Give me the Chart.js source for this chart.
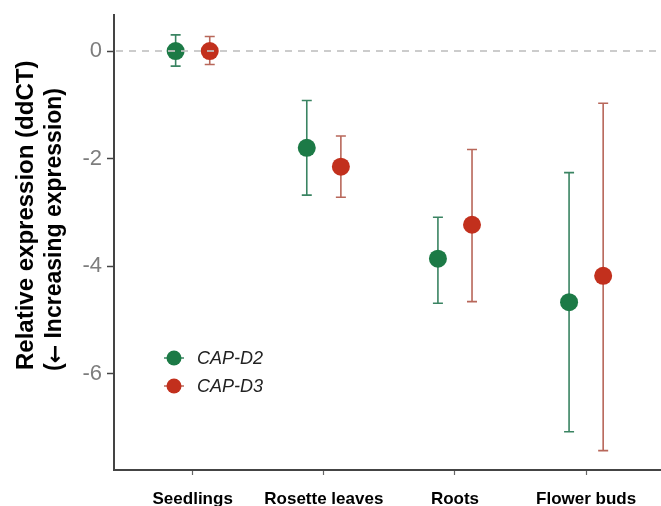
<!DOCTYPE html>
<html><head><meta charset="utf-8">
<script src="https://cdn.jsdelivr.net/npm/chart.js@4/dist/chart.umd.min.js"></script>
<style>html,body{margin:0;padding:0;background:#fff;overflow:hidden}#wrap{width:661px;height:506px;position:relative}</style>
</head><body><div id="wrap"><canvas id="c"></canvas></div>
<script>
const categories = ['Seedlings', 'Rosette leaves', 'Roots', 'Flower buds'];
const seriesNames = ['CAP-D2', 'CAP-D3'];
const d2Mean  = [0, -1.80, -3.86, -4.67];
const d2Upper = [0.30, -0.92, -3.09, -2.26];
const d2Lower = [-0.28, -2.68, -4.69, -7.08];
const d3Mean  = [0, -2.15, -3.23, -4.18];
const d3Upper = [0.27, -1.58, -1.83, -0.97];
const d3Lower = [-0.25, -2.72, -4.66, -7.43];
const yTickValues = [0, -2, -4, -6];
const yTitleLine1 = 'Relative expression (ddCT)';
const yTitleLine2 = ['(', '\u2190', ' Increasing expression)'];

const FONT = '"Liberation Sans", Arial, Helvetica, sans-serif';
const pointColors = ['#1c7a46', '#c2301d'];
const barColors = ['#3a8462', '#b8675a'];
const dodge = [-0.13, 0.13];

function build(mean, up, lo, k) {
  return mean.map((m, i) => ({ x: i + 1 + dodge[k], y: m, hi: up[i], lo: lo[i] }));
}

const errorBars = {
  id: 'errorBars',
  beforeDatasetsDraw(chart) {
    const { ctx, scales: { x, y } } = chart;
    ctx.save();
    chart.data.datasets.forEach((ds, k) => {
      ctx.strokeStyle = barColors[k];
      ctx.lineWidth = 1.6;
      ds.data.forEach(p => {
        const px = x.getPixelForValue(p.x);
        const yh = y.getPixelForValue(p.hi), yl = y.getPixelForValue(p.lo);
        ctx.beginPath();
        ctx.moveTo(px, yh); ctx.lineTo(px, yl);
        ctx.moveTo(px - 5, yh); ctx.lineTo(px + 5, yh);
        ctx.moveTo(px - 5, yl); ctx.lineTo(px + 5, yl);
        ctx.stroke();
      });
    });
    ctx.restore();
  },
  afterDatasetsDraw(chart) {
    const { ctx, chartArea, scales: { y } } = chart;
    const py = y.getPixelForValue(0);
    ctx.save();
    ctx.strokeStyle = 'rgba(195,195,195,0.85)';
    ctx.lineWidth = 2;
    ctx.setLineDash([7, 6]);
    ctx.beginPath();
    ctx.moveTo(chartArea.left + 2, py); ctx.lineTo(chartArea.right, py);
    ctx.stroke();
    ctx.restore();
  }
};

const extras = {
  id: 'extras',
  afterDraw(chart) {
    const { ctx } = chart;
    ctx.save();
    ctx.fillStyle = '#000';
    ctx.textAlign = 'left';
    ctx.textBaseline = 'middle';
    ctx.save();
    ctx.translate(26, 370);
    ctx.rotate(-Math.PI / 2);
    ctx.font = 'bold 24px ' + FONT;
    ctx.fillText(yTitleLine1, 0, 0);
    ctx.restore();
    ctx.save();
    ctx.translate(55, 371);
    ctx.rotate(-Math.PI / 2);
    const fonts = ['bold 23px ' + FONT, 'bold 22px "DejaVu Sans", sans-serif', 'bold 23px ' + FONT];
    let off = 0;
    yTitleLine2.forEach((t, i) => {
      ctx.font = fonts[i];
      ctx.fillText(t, off, i === 1 ? 1 : 0);
      off += ctx.measureText(t).width;
    });
    ctx.restore();
    const ly = [358, 386];
    seriesNames.forEach((n, k) => {
      ctx.strokeStyle = barColors[k];
      ctx.lineWidth = 1.5;
      ctx.beginPath(); ctx.moveTo(164, ly[k]); ctx.lineTo(184, ly[k]); ctx.stroke();
      ctx.fillStyle = pointColors[k];
      ctx.beginPath(); ctx.arc(174, ly[k], 7.5, 0, Math.PI * 2); ctx.fill();
      ctx.fillStyle = '#222';
      ctx.font = 'italic 18px ' + FONT;
      ctx.textAlign = 'left';
      ctx.fillText(n, 197, ly[k] + 1);
    });
    ctx.restore();
  }
};

new Chart(document.getElementById('c'), {
  type: 'scatter',
  data: {
    datasets: [
      { label: seriesNames[0], data: build(d2Mean, d2Upper, d2Lower, 0), backgroundColor: pointColors[0], borderWidth: 0, pointRadius: 9 },
      { label: seriesNames[1], data: build(d3Mean, d3Upper, d3Lower, 1), backgroundColor: pointColors[1], borderWidth: 0, pointRadius: 9 }
    ]
  },
  options: {
    responsive: true,
    maintainAspectRatio: false,
    animation: false,
    events: [],
    devicePixelRatio: 1,
    layout: { autoPadding: false, padding: { top: 15, left: 0, right: 0, bottom: 0 } },
    plugins: { legend: { display: false }, tooltip: { enabled: false } },
    scales: {
      x: {
        type: 'linear', min: 0.4, max: 4.571,
        afterBuildTicks: s => { s.ticks = categories.map((c, i) => ({ value: i + 1 })); },
        afterFit: s => { s.height = 36; s.paddingLeft = 0; s.paddingRight = 0; },
        ticks: {
          callback: v => categories[v - 1] || '',
          font: { family: FONT, size: 17, weight: 'bold' },
          color: '#000', padding: 14, maxRotation: 0, autoSkip: false
        },
        grid: { drawOnChartArea: false, drawTicks: true, tickLength: 5, tickColor: '#666', tickWidth: 1.2 },
        border: { display: true, color: '#444', width: 2 }
      },
      y: {
        min: -7.79, max: 0.67,
        afterBuildTicks: s => { s.ticks = yTickValues.map(v => ({ value: v })); },
        afterFit: s => { s.width = 114; s.paddingTop = 0; s.paddingBottom = 0; },
        ticks: {
          font: { family: FONT, size: 22 },
          color: '#7d7d7d', padding: 5
        },
        grid: { drawOnChartArea: false, drawTicks: true, tickLength: 7, tickColor: '#444', tickWidth: 1.5 },
        border: { display: true, color: '#444', width: 2 }
      }
    }
  },
  plugins: [errorBars, extras]
});
</script>
</body></html>
